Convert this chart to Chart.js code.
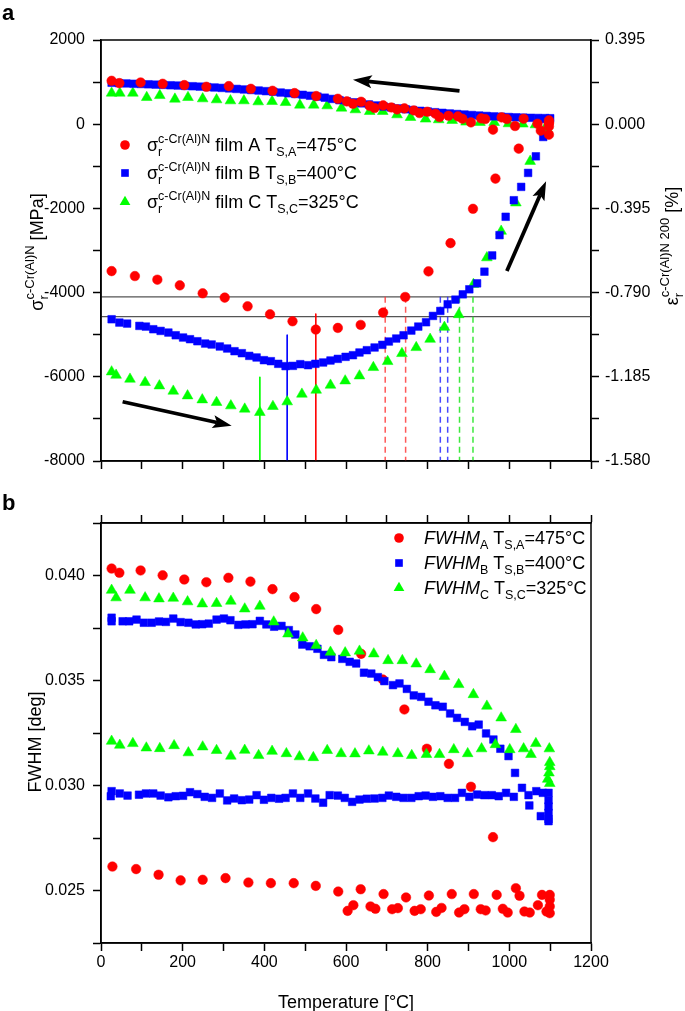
<!DOCTYPE html>
<html>
<head>
<meta charset="utf-8">
<script src="https://cdn.jsdelivr.net/npm/chart.js@4.4.1/dist/chart.umd.min.js"></script>
<style>
  html, body { margin: 0; padding: 0; background: #fff; }
  #wrap { position: relative; width: 685px; height: 1011px; }
  canvas { position: absolute; left: 0; }
</style>
</head>
<body>
<div id="wrap">
  <canvas id="stressChart" width="685" height="490" style="top:0"></canvas>
  <canvas id="fwhmChart" width="685" height="521" style="top:490px"></canvas>
</div>
<script>
const FONT = '"Liberation Sans", Arial, sans-serif';
const RED = '#ff0000', BLUE = '#0000ff', GREEN = '#00ff00';

// ---- axis ticks
const tempTicks = [0, 100, 200, 300, 400, 500, 600, 700, 800, 900, 1000, 1100, 1200];
const stressTicks = [-8000, -7000, -6000, -5000, -4000, -3000, -2000, -1000, 0, 1000, 2000];
const strainTicks = [-1.58, -1.3825, -1.185, -0.9875, -0.79, -0.5925, -0.395, -0.1975, 0, 0.1975, 0.395];
const fwhmTicks = [0.0225, 0.025, 0.0275, 0.03, 0.0325, 0.035, 0.0375, 0.04, 0.0425];

// ---- panel a: residual stress, film A (heating then cooling)
const stressA_T = [26, 83, 138, 193, 249, 303, 359, 414, 469, 526, 580, 636, 691, 745, 802, 856, 911, 966, 1023, 1077, 1097, 1097, 1097,
  1097, 1097, 1069, 1035, 1014, 994, 981, 960, 941, 931, 906, 885, 874, 851, 829, 819, 799, 780, 766, 743, 725, 711, 691, 670, 658, 637, 617, 602, 580, 527, 474, 420, 367, 313, 258, 204, 151, 97, 45, 26];
const stressA = [-3489, -3607, -3693, -3828, -4017, -4119, -4325, -4515, -4681, -4878, -4839, -4768, -4475, -4104, -3496, -2825, -2010, -1292, -581, -154, -249, -52, 28,
  90, 35, 12, 130, -43, 123, 161, -130, 123, 138, 43, 130, 185, 201, 170, 249, 296, 265, 327, 375, 351, 398, 446, 384, 438, 533, 486, 541, 604, 668, 739, 794, 841, 905, 889, 929, 960, 991, 976, 1031];

// film B heating
const stressB_heatT = [26, 45, 64, 94, 110, 128, 146, 165, 183, 201, 218, 236, 255, 271, 291, 309, 327, 345, 363, 381, 399, 416, 434, 452, 470, 488, 507, 525, 544, 562, 580, 599, 617, 633, 651, 670, 689, 705, 723, 741, 760, 777, 796, 813, 831, 849, 868, 886, 902, 921, 939, 958, 976, 991, 1011, 1029, 1046, 1065, 1083, 1081, 1098];
const stressB_heat = [-4633, -4712, -4736, -4791, -4807, -4870, -4910, -4949, -5013, -5067, -5107, -5155, -5210, -5233, -5280, -5328, -5392, -5439, -5503, -5541, -5605, -5629, -5692, -5747, -5740, -5700, -5724, -5692, -5660, -5613, -5574, -5526, -5487, -5423, -5368, -5304, -5241, -5162, -5091, -5013, -4902, -4807, -4704, -4554, -4436, -4278, -4167, -4041, -3922, -3780, -3503, -3117, -2635, -2199, -1806, -1489, -1157, -763, -304, 123, 123];
// film B cooling
const stressB_coolT = [1100, 1088, 1070, 1052, 1034, 1016, 998, 980, 962, 944, 926, 908, 890, 872, 854, 836, 818, 800, 782, 764, 746, 728, 710, 692, 674, 656, 638, 620, 602, 584, 566, 548, 530, 512, 494, 476, 458, 440, 422, 404, 386, 368, 350, 332, 314, 296, 278, 260, 242, 224, 206, 188, 170, 152, 134, 116, 98, 80, 62, 44, 26];
const stressB_cool = [142, 145, 148, 152, 157, 163, 170, 178, 186, 196, 206, 218, 230, 242, 255, 270, 285, 302, 318, 335, 355, 375, 398, 420, 445, 470, 495, 520, 545, 570, 600, 630, 655, 676, 698, 718, 735, 752, 770, 785, 800, 812, 825, 838, 850, 862, 872, 882, 893, 902, 910, 918, 925, 935, 940, 948, 955, 960, 968, 975, 985];

// film C heating and cooling
const stressC_T = [26, 37, 71, 108, 143, 177, 212, 248, 283, 318, 352, 389, 421, 456, 492, 527, 562, 598, 633, 667, 702, 737, 772, 806, 841, 876, 912, 945, 980, 1016, 1051, 1090, 1092,
  1094, 1064, 1033, 998, 963, 928, 894, 860, 827, 795, 758, 725, 690, 658, 623, 589, 554, 521, 487, 452, 419, 385, 350, 317, 283, 249, 213, 181, 144, 112, 78, 46, 26];
const stressC = [-5882, -5961, -6055, -6134, -6214, -6340, -6451, -6546, -6608, -6688, -6766, -6845, -6703, -6593, -6411, -6316, -6198, -6096, -5977, -5778, -5636, -5446, -5304, -5107, -4823, -4522, -3804, -3171, -2541, -1868, -881, -52, -100,
  -28, -12, 5, 12, 43, 43, 52, 91, 107, 123, 162, 225, 304, 304, 344, 384, 438, 455, 455, 517, 541, 533, 557, 557, 581, 604, 636, 597, 683, 636, 739, 739, 739];

// marker lines in panel a: [temperature, upper stress end, colour key]
const solidMarks = [[389, -6000, 'g'], [456, -5000, 'b'], [526, -4500, 'r']];
const dashedMarks = [[696, -4100, 'r'], [746, -4100, 'r'], [831, -4100, 'b'], [849, -4100, 'b'], [878, -4100, 'g'], [911, -4100, 'g']];
const levelLines = [-4100, -4570];
// arrows [T from, stress from, T to, stress to]
const arrowsA = [[878, 794, 617, 1055], [53, -6593, 320, -7162], [994, -3489, 1090, -1356]];

// ---- panel b: FWHM
const fwhmA_T = [26, 45, 97, 151, 204, 258, 312, 366, 420, 474, 527, 581, 637, 690, 743, 798, 852, 906, 960,
  28, 86, 141, 195, 249, 305, 361, 416, 472, 526, 581, 636, 692, 747, 803, 859, 913, 969, 1016, 1025, 1080, 1099, 1099, 1099, 1099,
  604, 618, 660, 672, 713, 727, 768, 783, 821, 834, 877, 890, 930, 942, 984, 996, 1037, 1050, 1070, 1091];
const fwhmA = [0.04033, 0.04013, 0.04024, 0.04001, 0.03981, 0.03968, 0.03989, 0.03971, 0.03935, 0.03897, 0.03840, 0.03741, 0.03627, 0.03505, 0.03362, 0.03175, 0.03103, 0.02994, 0.02754,
  0.02614, 0.02602, 0.02575, 0.02548, 0.02551, 0.02559, 0.02538, 0.02535, 0.02535, 0.02522, 0.02495, 0.02506, 0.02483, 0.02467, 0.02476, 0.02483, 0.02483, 0.02479, 0.02511, 0.02475, 0.02479, 0.02479, 0.02456, 0.02424, 0.02392,
  0.02403, 0.02430, 0.02424, 0.02413, 0.02411, 0.02416, 0.02403, 0.02411, 0.02398, 0.02417, 0.02395, 0.02411, 0.02411, 0.02405, 0.02413, 0.02395, 0.02400, 0.02395, 0.02430, 0.02400];

const fwhmB_T = [26, 26, 53, 69, 87, 105, 124, 142, 159, 177, 195, 214, 232, 248, 264, 283, 301, 317, 336, 354, 371, 389, 405, 424, 442, 460, 476, 493, 511, 530, 546, 564, 591, 609, 625, 644, 662, 678, 694, 715, 731, 749, 766, 784, 802, 819, 837, 855, 872, 891, 909, 925, 943, 961, 978, 998, 1014, 1049, 1077, 1096,
  24, 26, 46, 65, 93, 110, 128, 146, 165, 183, 201, 218, 236, 254, 272, 291, 309, 326, 345, 363, 381, 399, 417, 436, 452, 470, 488, 507, 525, 544, 560, 580, 597, 615, 633, 651, 670,
  689, 705, 723, 741, 760, 778, 795, 813, 831, 849, 867, 884, 902, 921, 939, 957, 974, 992, 1011, 1031, 1047, 1066, 1082, 1096, 1096, 1096, 1096, 1096];
const fwhmB = [0.03799, 0.03782, 0.03782, 0.03782, 0.03790, 0.03775, 0.03775, 0.03781, 0.03779, 0.03795, 0.03778, 0.03775, 0.03767, 0.03768, 0.03771, 0.03790, 0.03795, 0.03787, 0.03765, 0.03767, 0.03768, 0.03784, 0.03767, 0.03756, 0.03760, 0.03740, 0.03719, 0.03671, 0.03663, 0.03651, 0.03622, 0.03611, 0.03603, 0.03589, 0.03581, 0.03537, 0.03533, 0.03516, 0.03497, 0.03478, 0.03486, 0.03460, 0.03429, 0.03422, 0.03399, 0.03382, 0.03375, 0.03343, 0.03322, 0.03303, 0.03282, 0.03290, 0.03248, 0.03219, 0.03175, 0.03140, 0.03060, 0.02905, 0.02854, 0.02830,
  0.02949, 0.02973, 0.02962, 0.02952, 0.02956, 0.02962, 0.02962, 0.02952, 0.02944, 0.02949, 0.02951, 0.02968, 0.02959, 0.02946, 0.02941, 0.02962, 0.02929, 0.02938, 0.02930, 0.02933, 0.02954, 0.02932, 0.02941, 0.02937, 0.02941, 0.02962, 0.02941, 0.02962, 0.02938, 0.02918, 0.02954, 0.02952, 0.02941, 0.02922, 0.02933, 0.02937, 0.02938,
  0.02941, 0.02952, 0.02946, 0.02941, 0.02941, 0.02949, 0.02952, 0.02946, 0.02949, 0.02941, 0.02941, 0.02965, 0.02946, 0.02957, 0.02954, 0.02954, 0.02949, 0.02965, 0.02946, 0.02989, 0.02954, 0.02973, 0.02965, 0.02965, 0.02930, 0.02900, 0.02870, 0.02840];

const fwhmC_T = [26, 37, 71, 108, 142, 177, 212, 248, 283, 318, 352, 389, 423, 458, 494, 527, 562, 598, 633, 668, 703, 738, 772, 806, 841, 876, 912, 945, 980, 1016, 1065, 1098,
  26, 46, 78, 111, 144, 179, 214, 249, 283, 318, 352, 386, 419, 454, 486, 520, 554, 588, 622, 656, 690, 727, 761, 797, 829, 864, 898, 932, 966, 1001, 1035, 1053, 1099, 1099, 1097, 1094, 1099];
const fwhmC = [0.03930, 0.03894, 0.03930, 0.03894, 0.03889, 0.03892, 0.03875, 0.03865, 0.03867, 0.03878, 0.03841, 0.03854, 0.03779, 0.03722, 0.03703, 0.03667, 0.03635, 0.03632, 0.03640, 0.03627, 0.03595, 0.03595, 0.03579, 0.03552, 0.03520, 0.03481, 0.03433, 0.03378, 0.03322, 0.03267, 0.03200, 0.03175,
  0.03211, 0.03192, 0.03200, 0.03179, 0.03176, 0.03190, 0.03156, 0.03184, 0.03167, 0.03140, 0.03168, 0.03143, 0.03163, 0.03152, 0.03137, 0.03133, 0.03167, 0.03152, 0.03151, 0.03165, 0.03159, 0.03152, 0.03143, 0.03148, 0.03148, 0.03171, 0.03152, 0.03175, 0.03195, 0.03171, 0.03175, 0.03148, 0.0311, 0.0309, 0.0306, 0.0303, 0.0301];

const colourOf = { r: RED, b: BLUE, g: GREEN };
const dashColourOf = { r: 'rgba(255,60,60,0.85)', b: 'rgba(40,40,255,0.85)', g: 'rgba(40,230,40,0.9)' };

function pts(xs, ys) {
  return xs.map((x, i) => ({ x, y: ys[i] }));
}

function markerSet(label, data, colour, style, radius) {
  return {
    label, data, showLine: false, pointStyle: style, pointRadius: radius,
    backgroundColor: colour, borderColor: colour, borderWidth: 0.5
  };
}

function lineSet(data, colour, width, dash) {
  return {
    type: 'line', data, showLine: true, borderColor: colour, borderWidth: width,
    borderDash: dash || [], pointRadius: 0, fill: false
  };
}

// text with sub/superscripts; a part with stack:true shares its x with the next part
function richText(ctx, parts, x, y, draw = true) {
  let cx = x;
  let hold = null;
  for (const p of parts) {
    ctx.font = `${p.it ? 'italic ' : ''}${p.s}px ${FONT}`;
    const w = ctx.measureText(p.t).width;
    const sx = hold ? hold.x : cx;
    if (draw) ctx.fillText(p.t, sx, y + (p.dy || 0));
    if (p.stack) {
      hold = { x: cx, w };
    } else if (hold) {
      cx = hold.x + Math.max(hold.w, w);
      hold = null;
    } else {
      cx += w;
    }
  }
  return cx - x;
}

function verticalText(ctx, parts, x, yCenter) {
  const w = richText(ctx, parts, 0, 0, false);
  ctx.save();
  ctx.translate(x, yCenter);
  ctx.rotate(-Math.PI / 2);
  richText(ctx, parts, -w / 2, 0);
  ctx.restore();
}

function drawMarker(ctx, style, x, y, r, colour) {
  ctx.fillStyle = colour;
  ctx.beginPath();
  if (style === 'circle') {
    ctx.arc(x, y, r, 0, Math.PI * 2);
  } else if (style === 'rect') {
    const h = r * Math.SQRT1_2;
    ctx.rect(x - h, y - h, 2 * h, 2 * h);
  } else {
    ctx.moveTo(x, y - r);
    ctx.lineTo(x + r * 0.866, y + r * 0.5);
    ctx.lineTo(x - r * 0.866, y + r * 0.5);
    ctx.closePath();
  }
  ctx.fill();
}

const framePlugin = {
  id: 'frame',
  afterDraw(chart) {
    const { ctx, chartArea: a } = chart;
    ctx.save();
    ctx.strokeStyle = '#000';
    ctx.lineWidth = 1.5;
    ctx.strokeRect(a.left, a.top, a.right - a.left, a.bottom - a.top);
    ctx.restore();
  }
};

function tickAxis(values, extra) {
  return Object.assign({
    type: 'linear',
    afterBuildTicks: axis => { axis.ticks = values.map(v => ({ value: v })); },
    grid: { drawOnChartArea: false, drawTicks: true, tickLength: 8, tickWidth: 1.5, tickColor: '#000' },
    border: { display: true, color: '#000', width: 1.5 }
  }, extra);
}

const tickFont = { family: FONT, size: 16 };
const BIG = 18, SMALL = 12.5;

Chart.defaults.font.family = FONT;
Chart.defaults.color = '#000';
Chart.defaults.animation = false;

// ---------------- panel a ----------------
const datasetsA = [
  markerSet('A', pts(stressA_T, stressA), RED, 'circle', 4.8),
  markerSet('B heat', pts(stressB_heatT, stressB_heat), BLUE, 'rect', 5.4),
  markerSet('B cool', pts(stressB_coolT, stressB_cool), BLUE, 'rect', 5.4),
  markerSet('C', pts(stressC_T, stressC), GREEN, 'triangle', 6.2)
];
solidMarks.forEach(m => datasetsA.push(lineSet([{ x: m[0], y: m[1] }, { x: m[0], y: -8000 }], colourOf[m[2]], 1)));
dashedMarks.forEach(m => datasetsA.push(lineSet([{ x: m[0], y: m[1] }, { x: m[0], y: -8000 }], dashColourOf[m[2]], 1.5, [6, 4])));
levelLines.forEach(v => datasetsA.push(lineSet([{ x: 0, y: v }, { x: 1200, y: v }], '#555', 1.3)));

const overlayA = {
  id: 'overlayA',
  afterDatasetsDraw(chart) {
    const { ctx } = chart;
    const xs = chart.scales.x, ys = chart.scales.y;
    ctx.save();
    ctx.fillStyle = '#000';
    ctx.strokeStyle = '#000';
    arrowsA.forEach(a => {
      const x0 = xs.getPixelForValue(a[0]), y0 = ys.getPixelForValue(a[1]);
      const x1 = xs.getPixelForValue(a[2]), y1 = ys.getPixelForValue(a[3]);
      const ang = Math.atan2(y1 - y0, x1 - x0);
      const hl = 19, hw = 6.5;
      const bx = x1 - hl * Math.cos(ang), by = y1 - hl * Math.sin(ang);
      ctx.lineWidth = 3.8;
      ctx.beginPath();
      ctx.moveTo(x0, y0);
      ctx.lineTo(bx + 4 * Math.cos(ang), by + 4 * Math.sin(ang));
      ctx.stroke();
      ctx.beginPath();
      ctx.moveTo(x1, y1);
      ctx.lineTo(bx - hw * Math.sin(ang), by + hw * Math.cos(ang));
      ctx.lineTo(bx + 4 * Math.cos(ang), by + 4 * Math.sin(ang));
      ctx.lineTo(bx + hw * Math.sin(ang), by - hw * Math.cos(ang));
      ctx.closePath();
      ctx.fill();
    });
    ctx.restore();
  },
  afterDraw(chart) {
    const { ctx } = chart;
    ctx.save();
    ctx.fillStyle = '#000';
    ctx.textBaseline = 'alphabetic';
    const rows = [
      ['circle', RED, 4.8, 'A', '475'],
      ['rect', BLUE, 5.4, 'B', '400'],
      ['triangle', GREEN, 6.2, 'C', '325']
    ];
    const rowY = [145, 173, 202];
    rows.forEach((r, i) => {
      drawMarker(ctx, r[0], 125, rowY[i], r[2], r[1]);
      ctx.fillStyle = '#000';
      richText(ctx, [
        { t: 'σ', s: BIG },
        { t: 'r', s: SMALL, dy: 5, stack: true },
        { t: 'c-Cr(Al)N', s: SMALL, dy: -8 },
        { t: ' film ' + r[3] + ' T', s: BIG },
        { t: 'S,' + r[3], s: SMALL, dy: 5 },
        { t: '=' + r[4] + '°C', s: BIG }
      ], 147, rowY[i] + 6);
    });
    verticalText(ctx, [
      { t: 'σ', s: BIG },
      { t: 'r', s: 13, dy: 5, stack: true },
      { t: 'c-Cr(Al)N', s: 13, dy: -9 },
      { t: ' [MPa]', s: BIG }
    ], 43, 252);
    verticalText(ctx, [
      { t: 'ε', s: BIG },
      { t: 'r', s: 13, dy: 5, stack: true },
      { t: 'c-Cr(Al)N 200', s: 13, dy: -9 },
      { t: ' [%]', s: BIG }
    ], 678, 246);
    ctx.font = `bold 22px ${FONT}`;
    ctx.fillText('a', 2, 20);
    ctx.restore();
  }
};

new Chart(document.getElementById('stressChart'), {
  type: 'scatter',
  data: { datasets: datasetsA },
  options: {
    responsive: false,
    layout: { padding: { top: 40, left: 0, right: 0, bottom: 0 } },
    plugins: { legend: { display: false }, tooltip: { enabled: false } },
    scales: {
      x: tickAxis(tempTicks, {
        position: 'bottom', min: 0, max: 1200,
        afterFit: s => { s.height = 29; },
        ticks: { callback: () => '', autoSkip: false, font: tickFont }
      }),
      y: tickAxis(stressTicks, {
        position: 'left', min: -8000, max: 2000,
        afterFit: s => { s.width = 101; },
        ticks: { autoSkip: false, font: tickFont, padding: 8,
          callback: v => (v % 2000 === 0 ? String(v) : '') }
      }),
      y2: tickAxis(strainTicks, {
        position: 'right', min: -1.58, max: 0.395,
        afterFit: s => { s.width = 94; },
        ticks: { autoSkip: false, font: tickFont, padding: 6,
          callback: (v, i) => (i % 2 === 0 ? Number(v).toFixed(3) : '') }
      })
    }
  },
  plugins: [framePlugin, overlayA]
});

// ---------------- panel b ----------------
const overlayB = {
  id: 'overlayB',
  afterDraw(chart) {
    const { ctx } = chart;
    ctx.save();
    ctx.fillStyle = '#000';
    const rows = [
      ['circle', RED, 4.8, 'A', '475'],
      ['rect', BLUE, 5.4, 'B', '400'],
      ['triangle', GREEN, 6.2, 'C', '325']
    ];
    const rowY = [48, 73, 98];
    rows.forEach((r, i) => {
      drawMarker(ctx, r[0], 399, rowY[i], r[2], r[1]);
      ctx.fillStyle = '#000';
      richText(ctx, [
        { t: 'FWHM', s: BIG, it: true },
        { t: r[3], s: SMALL, dy: 5 },
        { t: ' T', s: BIG },
        { t: 'S,' + r[3], s: SMALL, dy: 5 },
        { t: '=' + r[4] + '°C', s: BIG }
      ], 424, rowY[i] + 6);
    });
    verticalText(ctx, [{ t: 'FWHM [deg]', s: BIG }], 41, 252);
    ctx.font = `${BIG}px ${FONT}`;
    ctx.textAlign = 'center';
    ctx.fillText('Temperature [°C]', 346, 518);
    ctx.textAlign = 'left';
    ctx.font = `bold 22px ${FONT}`;
    ctx.fillText('b', 2, 20);
    ctx.restore();
  }
};

new Chart(document.getElementById('fwhmChart'), {
  type: 'scatter',
  data: {
    datasets: [
      markerSet('C', pts(fwhmC_T, fwhmC), GREEN, 'triangle', 6.2),
      markerSet('B', pts(fwhmB_T, fwhmB), BLUE, 'rect', 5.4),
      markerSet('A', pts(fwhmA_T, fwhmA), RED, 'circle', 4.8)
    ]
  },
  options: {
    responsive: false,
    layout: { padding: { top: 0, left: 0, right: 94, bottom: 0 } },
    plugins: { legend: { display: false }, tooltip: { enabled: false } },
    scales: {
      x: tickAxis(tempTicks, {
        position: 'bottom', min: 0, max: 1200,
        afterFit: s => { s.height = 68; },
        ticks: { autoSkip: false, font: tickFont, padding: 2, maxRotation: 0,
          callback: v => (v % 200 === 0 ? String(v) : '') }
      }),
      x2: tickAxis(tempTicks, {
        position: 'top', min: 0, max: 1200,
        afterFit: s => { s.height = 33; },
        ticks: { autoSkip: false, font: tickFont, callback: () => '' }
      }),
      y: tickAxis(fwhmTicks, {
        position: 'left', min: 0.0225, max: 0.0425,
        afterFit: s => { s.width = 101; },
        ticks: { autoSkip: false, font: tickFont, padding: 8,
          callback: v => (Math.round(v * 10000) % 50 === 0 ? Number(v).toFixed(3) : '') }
      })
    }
  },
  plugins: [framePlugin, overlayB]
});
</script>
</body>
</html>
